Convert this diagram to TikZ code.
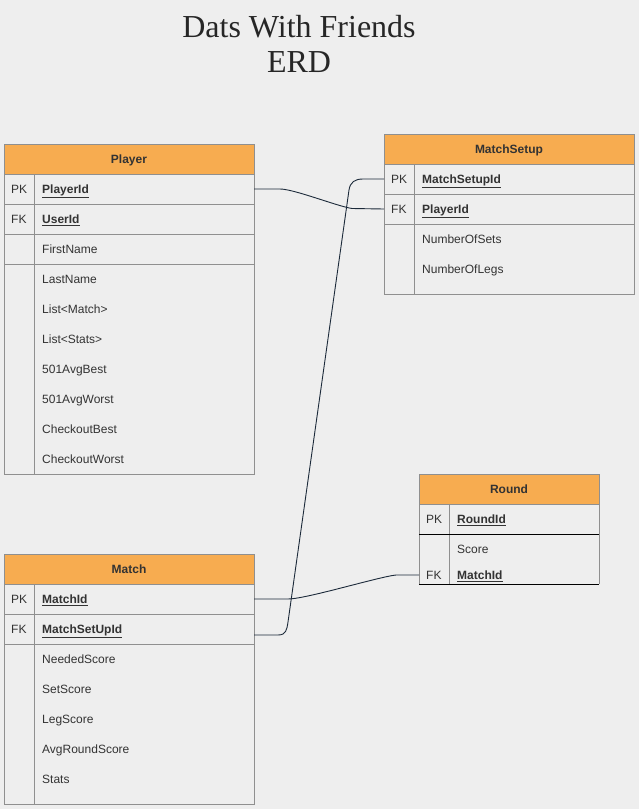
\documentclass[tikz,border=0pt]{standalone}
\usepackage{fontspec}
\setmainfont{Liberation Sans}
\newfontfamily\titlefont{Liberation Serif}
\definecolor{bg}{HTML}{EEEEEE}
\definecolor{hdr}{HTML}{F7AC50}
\definecolor{txt}{HTML}{333333}
\definecolor{gridgrey}{HTML}{8F8F8F}
\definecolor{linkc}{HTML}{1C2A3A}
\begin{document}
\begin{tikzpicture}[x=1pt,y=-1pt,
  frame/.style={draw=gridgrey, line width=0.8pt},
  dark/.style={draw=black, line width=0.8pt},
  lbl/.style={anchor=west, inner sep=0pt, text height=11pt, text depth=2.4pt, text=txt, font=\fontsize{12}{14}\selectfont},
  keylbl/.style={lbl, font=\fontsize{12}{14}\selectfont\bfseries},
  ttl/.style={inner sep=0pt, text height=11pt, text depth=2.4pt, text=txt, font=\fontsize{12}{14}\selectfont\bfseries},
  title/.style={inner sep=0pt, text=black!85, font=\titlefont\fontsize{32}{34}\selectfont},
  rel/.style={draw=linkc, line width=0.9pt}]

\fill[bg] (0,0) rectangle (639,809);
\useasboundingbox (0,0) rectangle (639,809);

% title
\node[title] (t1) at (299,27) {Dats With Friends};
\node[title] (t2) at (299,62) {ERD};

% ---------- Player ----------
\fill[hdr] (4,144) rectangle (254,174);
\draw[frame] (4,144) rectangle (254,474);
\draw[frame] (4,174) -- (254,174) (4,204) -- (254,204) (4,234) -- (254,234) (4,264) -- (254,264);
\draw[frame] (34,174) -- (34,474);
\node[ttl] (playerH) at (129,159) {Player};
\node[lbl] (playerPKk) at (11,189) {PK};
\node[keylbl] (playerPK) at (42,189) {\underline{PlayerId}};
\node[lbl] (playerFKk) at (11,219) {FK};
\node[keylbl] (playerFK) at (42,219) {\underline{UserId}};
\node[lbl] (playerA1) at (42,249) {FirstName};
\node[lbl] (playerA2) at (42,279) {LastName};
\node[lbl] (playerA3) at (42,309) {List<Match>};
\node[lbl] (playerA4) at (42,339) {List<Stats>};
\node[lbl] (playerA5) at (42,369) {501AvgBest};
\node[lbl] (playerA6) at (42,399) {501AvgWorst};
\node[lbl] (playerA7) at (42,429) {CheckoutBest};
\node[lbl] (playerA8) at (42,459) {CheckoutWorst};
\coordinate (playerPKe) at (254,189);

% ---------- MatchSetup ----------
\fill[hdr] (384,134) rectangle (634,164);
\draw[frame] (384,134) rectangle (634,294);
\draw[frame] (384,164) -- (634,164) (384,194) -- (634,194) (384,224) -- (634,224);
\draw[frame] (414,164) -- (414,294);
\node[ttl] (setupH) at (509,149) {MatchSetup};
\node[lbl] (setupPKk) at (391,179) {PK};
\node[keylbl] (setupPK) at (422,179) {\underline{MatchSetupId}};
\node[lbl] (setupFKk) at (391,209) {FK};
\node[keylbl] (setupFK) at (422,209) {\underline{PlayerId}};
\node[lbl] (setupA1) at (422,239) {NumberOfSets};
\node[lbl] (setupA2) at (422,269) {NumberOfLegs};
\coordinate (setupPKe) at (384,179);
\coordinate (setupFKe) at (384,209);

% ---------- Round ----------
\fill[hdr] (419,474) rectangle (599,504);
\draw[frame] (419,584) -- (419,474) -- (599,474) -- (599,584);
\draw[frame] (419,504) -- (599,504);
\draw[frame] (449,504) -- (449,584);
\draw[dark] (419,534) -- (599,534);
\draw[dark] (419,584) -- (599,584);
\node[ttl] (roundH) at (509,489) {Round};
\node[lbl] (roundPKk) at (426,519) {PK};
\node[keylbl] (roundPK) at (457,519) {\underline{RoundId}};
\node[lbl] (roundA1) at (457,549) {Score};
\node[lbl] (roundFKk) at (426,575) {FK};
\node[keylbl] (roundFK) at (457,575) {\underline{MatchId}};
\coordinate (roundFKe) at (419,575);

% ---------- Match ----------
\fill[hdr] (4,554) rectangle (254,584);
\draw[frame] (4,554) rectangle (254,804);
\draw[frame] (4,584) -- (254,584) (4,614) -- (254,614) (4,644) -- (254,644);
\draw[frame] (34,584) -- (34,804);
\node[ttl] (matchH) at (129,569) {Match};
\node[lbl] (matchPKk) at (11,599) {PK};
\node[keylbl] (matchPK) at (42,599) {\underline{MatchId}};
\node[lbl] (matchFKk) at (11,629) {FK};
\node[keylbl] (matchFK) at (42,629) {\underline{MatchSetUpId}};
\node[lbl] (matchA1) at (42,659) {NeededScore};
\node[lbl] (matchA2) at (42,689) {SetScore};
\node[lbl] (matchA3) at (42,719) {LegScore};
\node[lbl] (matchA4) at (42,749) {AvgRoundScore};
\node[lbl] (matchA5) at (42,779) {Stats};
\coordinate (matchPKe) at (254,599);
\coordinate (matchFKe) at (254,635);

% ---------- relationships ----------
\draw[rel] (playerPKe) -- ++(26,0) .. controls +(14,0) and +(-14,-2) .. (352,208.5) -- (setupFKe);
\draw[rel] (matchFKe) -- ++(24,0) .. controls +(8,0) and +(-1.2,8) .. (288,622) -- (349,190) .. controls +(1.2,-8) and +(-8,0) .. (363,179) -- (setupPKe);
\draw[rel] (matchPKe) -- ++(34,0) .. controls +(18,0) and +(-18,2) .. (396,575) -- (roundFKe);
\end{tikzpicture}
\end{document}
